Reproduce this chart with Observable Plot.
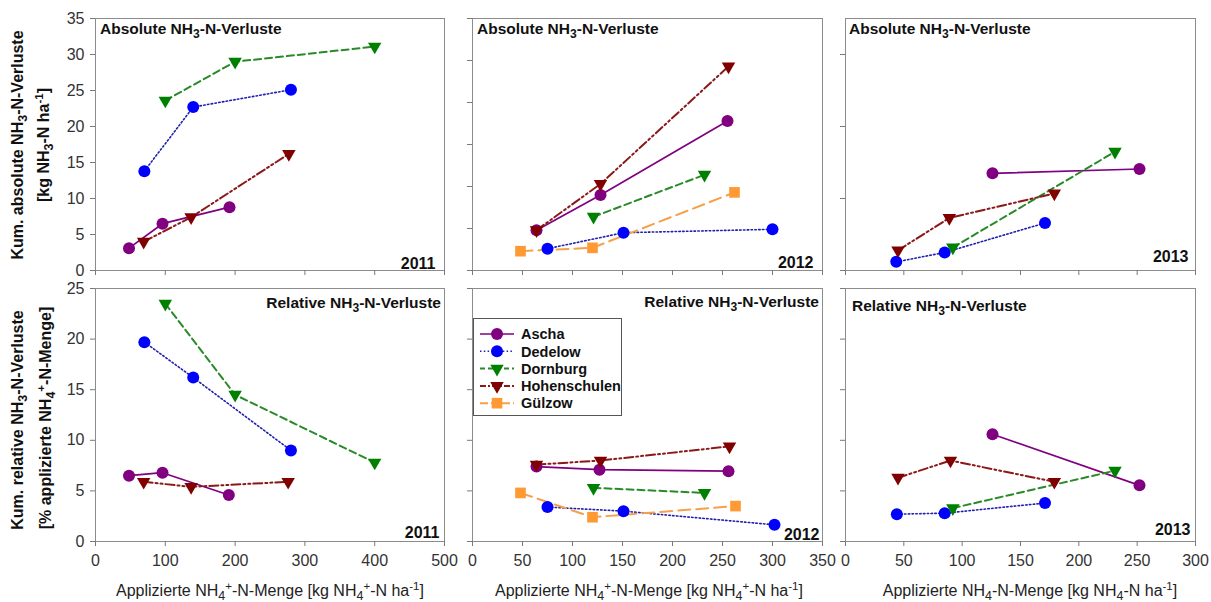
<!DOCTYPE html>
<html><head><meta charset="utf-8">
<script src="https://cdn.jsdelivr.net/npm/d3@7"></script>
<script src="https://cdn.jsdelivr.net/npm/@observablehq/plot@0.6"></script>
<style>
body{margin:0;background:#fff;font-family:"Liberation Sans",Arial,sans-serif;}
#fig{position:relative;width:1211px;height:602px;overflow:hidden;background:#fff}
#fig svg.pl{position:absolute}
.t{position:absolute;font-weight:bold;font-size:15.5px;color:#111;white-space:nowrap;line-height:1}
.xl{position:absolute;font-size:16px;color:#222;white-space:nowrap;line-height:1;transform:translateX(-50%)}
.yl{position:absolute;font-weight:bold;font-size:16px;color:#111;white-space:nowrap;line-height:1;transform:translate(-50%,-50%) rotate(-90deg)}
sub{font-size:0.78em;vertical-align:-0.3em;line-height:0}
sup{font-size:0.72em;vertical-align:0.5em;line-height:0}
</style></head>
<body><div id="fig"></div>
<script>
// ---- categories & styles ----
const sites = ["Ascha","Dedelow","Dornburg","Hohenschulen","Gülzow"];
const markerColors = ["#800080","#0000ff","#008000","#800000","#ff9933"];
const lineColors = ["#800080","#2020b0","#2a8a2a","#8a1a1a","#f5a04a"];
const lineDash = [null,"1.5,2.3","7,4","9,3,2,3,2,3","12,6"];
const lineWidths = [1.7,1.6,2,2,2];
const markerKinds = ["circle","circle","triangleDown","triangleDown","square"];
const markerR = [6,6,5,5,6];

// ---- data: [site, applied NH4-N (kg/ha), value] ----
const abs2011 = [
  ["Ascha",48,3.1],["Ascha",96,6.5],["Ascha",192,8.8],
  ["Dedelow",70,13.8],["Dedelow",140,22.7],["Dedelow",280,25.1],
  ["Dornburg",100,23.6],["Dornburg",200,29.0],["Dornburg",400,31.1],
  ["Hohenschulen",69,4.0],["Hohenschulen",137,7.4],["Hohenschulen",277,16.2]
];
const abs2012 = [
  ["Ascha",64,4.8],["Ascha",128,9.0],["Ascha",255,17.8],
  ["Dedelow",75,2.6],["Dedelow",151,4.5],["Dedelow",300,4.9],
  ["Dornburg",121,6.4],["Dornburg",232,11.4],
  ["Hohenschulen",64,4.8],["Hohenschulen",128,10.3],["Hohenschulen",256,24.3],
  ["Gülzow",48,2.3],["Gülzow",120,2.7],["Gülzow",262,9.3]
];
const abs2013 = [
  ["Ascha",126,13.5],["Ascha",252,14.1],
  ["Dedelow",43.5,1.2],["Dedelow",85,2.5],["Dedelow",171,6.6],
  ["Dornburg",92,3.2],["Dornburg",231,16.5],
  ["Hohenschulen",45,2.8],["Hohenschulen",89,7.3],["Hohenschulen",179,10.7]
];
const rel2011 = [
  ["Ascha",48,6.5],["Ascha",96,6.8],["Ascha",191,4.6],
  ["Dedelow",70,19.7],["Dedelow",140,16.2],["Dedelow",280,9.0],
  ["Dornburg",100,23.5],["Dornburg",200,14.5],["Dornburg",400,7.8],
  ["Hohenschulen",69,5.9],["Hohenschulen",137,5.4],["Hohenschulen",276,5.9]
];
const rel2012 = [
  ["Ascha",64,7.4],["Ascha",127,7.1],["Ascha",256,6.95],
  ["Dedelow",75,3.4],["Dedelow",151,3.0],["Dedelow",302,1.65],
  ["Dornburg",121,5.3],["Dornburg",232,4.8],
  ["Hohenschulen",64,7.6],["Hohenschulen",128,8.0],["Hohenschulen",257,9.4],
  ["Gülzow",48,4.8],["Gülzow",120,2.4],["Gülzow",263,3.5]
];
const rel2013 = [
  ["Ascha",126,10.6],["Ascha",252,5.55],
  ["Dedelow",44,2.7],["Dedelow",85,2.8],["Dedelow",171,3.8],
  ["Dornburg",92,3.3],["Dornburg",231,7.0],
  ["Hohenschulen",45,6.3],["Hohenschulen",90,8.0],["Hohenschulen",179,5.9]
];

// ---- tick values ----
const xTicks2011 = [0,100,200,300,400,500];
const xTicks2012 = [0,50,100,150,200,250,300,350];
const xTicks2013 = [0,50,100,150,200,250,300];
const yTicksAbs2011 = [0,5,10,15,20,25,30,35];
const yTicksAbs2012 = [0,5,10,15,20,25,30];
const yTicksAbs2013 = [0,10,20,30];
const yTicksRel = [0,5,10,15,20,25];

// custom downward triangle symbol (area = size)
const triangleDown = {
  draw(ctx, size) {
    const a = Math.sqrt(4 * size / Math.sqrt(3));
    const R = a / Math.sqrt(3);
    ctx.moveTo(0, R);
    ctx.lineTo(-a / 2, -R / 2);
    ctx.lineTo(a / 2, -R / 2);
    ctx.closePath();
  }
};
const symbolOf = k => k === "triangleDown" ? triangleDown : k;

const fig = document.getElementById("fig");
const mL = 60, mR = 20, mT = 10, mB = 40;

function panel({rows, xDomain, yDomain, xTicks, yTicks, xLabels, yLabels, year, yearDx, yearDy, left, top, w, h}) {
  const data = rows.map(([site, n, v]) => ({site, n, v}));
  const marks = [
    Plot.frame({stroke: "#8c8c8c"}),
    Plot.axisX({ticks: xTicks, tickSize: 5, tickPadding: 8, stroke: "#7a7a7a", fill: "#333",
      tickFormat: xLabels ? d => String(d) : () => "", label: null}),
    Plot.axisY({ticks: yTicks, tickSize: 5, tickPadding: 6, stroke: "#7a7a7a", fill: "#333",
      tickFormat: yLabels ? d => String(d) : () => "", label: null})
  ];
  sites.forEach((s, i) => {
    const d = data.filter(r => r.site === s);
    if (!d.length) return;
    const opts = {x: "n", y: "v", stroke: lineColors[i], strokeWidth: lineWidths[i]};
    if (lineDash[i]) opts.strokeDasharray = lineDash[i];
    marks.push(Plot.line(d, opts));
  });
  sites.forEach((s, i) => {
    const d = data.filter(r => r.site === s);
    if (!d.length) return;
    marks.push(Plot.dot(d, {x: "n", y: "v", r: markerR[i], symbol: symbolOf(markerKinds[i]),
      fill: markerColors[i], stroke: "none"}));
  });
  marks.push(Plot.text([year], {text: d => String(d), frameAnchor: "bottom-right", dx: yearDx, dy: yearDy,
    fontWeight: "bold", fontSize: 16, fill: "#111"}));
  const svg = Plot.plot({
    width: mL + w + mR, height: mT + h + mB,
    marginLeft: mL, marginRight: mR, marginTop: mT, marginBottom: mB,
    x: {domain: xDomain, axis: null},
    y: {domain: yDomain, axis: null},
    style: {background: "transparent", fontSize: "16px", fontFamily: "'Liberation Sans', Arial, sans-serif", overflow: "visible"},
    marks
  });
  svg.classList.add("pl");
  svg.style.left = (left - mL) + "px";
  svg.style.top = (top - mT) + "px";
  svg.style.maxWidth = "none";
  fig.appendChild(svg);
}

const cols = [{left: 95, w: 349}, {left: 472, w: 350}, {left: 845, w: 350}];
const rowsY = [{top: 18, h: 252}, {top: 288, h: 253}];

panel({rows: abs2011, xDomain: [0,500], yDomain: [0,35], xTicks: xTicks2011, yTicks: yTicksAbs2011,
  xLabels: false, yLabels: true, year: 2011, yearDx: -9, yearDy: -2, ...cols[0], ...rowsY[0]});
panel({rows: abs2012, xDomain: [0,350], yDomain: [0,30], xTicks: xTicks2012, yTicks: yTicksAbs2012,
  xLabels: false, yLabels: false, year: 2012, yearDx: -9, yearDy: -3, ...cols[1], ...rowsY[0]});
panel({rows: abs2013, xDomain: [0,300], yDomain: [0,35], xTicks: xTicks2013, yTicks: yTicksAbs2013,
  xLabels: false, yLabels: false, year: 2013, yearDx: -7, yearDy: -9, ...cols[2], ...rowsY[0]});
panel({rows: rel2011, xDomain: [0,500], yDomain: [0,25], xTicks: xTicks2011, yTicks: yTicksRel,
  xLabels: true, yLabels: true, year: 2011, yearDx: -5, yearDy: -4, ...cols[0], ...rowsY[1]});
panel({rows: rel2012, xDomain: [0,350], yDomain: [0,25], xTicks: xTicks2012, yTicks: yTicksRel,
  xLabels: true, yLabels: false, year: 2012, yearDx: -3, yearDy: -2, ...cols[1], ...rowsY[1]});
panel({rows: rel2013, xDomain: [0,300], yDomain: [0,25], xTicks: xTicks2013, yTicks: yTicksRel,
  xLabels: true, yLabels: false, year: 2013, yearDx: -5, yearDy: -7, ...cols[2], ...rowsY[1]});

// ---- text overlays ----
function addDiv(cls, html, styles) {
  const d = document.createElement("div");
  d.className = cls; d.innerHTML = html;
  Object.assign(d.style, styles);
  fig.appendChild(d);
  return d;
}
const absTitle = "Absolute NH<sub>3</sub>-N-Verluste";
const relTitle = "Relative NH<sub>3</sub>-N-Verluste";
addDiv("t", absTitle, {left: "100px", top: "21px"});
addDiv("t", absTitle, {left: "477px", top: "21px"});
addDiv("t", absTitle, {left: "849px", top: "21px"});
addDiv("t", relTitle, {right: (1211 - 441) + "px", top: "295px"});
addDiv("t", relTitle, {right: (1211 - 819) + "px", top: "294px"});
addDiv("t", relTitle, {left: "852px", top: "298px"});

addDiv("yl", "Kum. absolute NH<sub>3</sub>-N-Verluste", {left: "18px", top: "145px"});
addDiv("yl", "[kg NH<sub>3</sub>-N ha<sup>-1</sup>]", {left: "44px", top: "145px"});
addDiv("yl", "Kum. relative NH<sub>3</sub>-N-Verluste", {left: "18px", top: "420px"});
addDiv("yl", "[% applizierte NH<sub>4</sub><sup>+</sup>-N-Menge]", {left: "46px", top: "418px"});

const xlab1 = "Applizierte NH<sub>4</sub><sup>+</sup>-N-Menge [kg NH<sub>4</sub><sup>+</sup>-N ha<sup>-1</sup>]";
const xlab3 = "Applizierte NH<sub>4</sub>-N-Menge [kg NH<sub>4</sub>-N ha<sup>-1</sup>]";
addDiv("xl", xlab1, {left: "270px", top: "583px"});
addDiv("xl", xlab1, {left: "649px", top: "583px"});
addDiv("xl", xlab3, {left: "1030px", top: "583px"});

// ---- legend ----
const lg = d3.select(fig).append("svg")
  .attr("width", 150).attr("height", 99)
  .style("position", "absolute").style("left", "473px").style("top", "318px");
lg.append("rect").attr("x", 0.5).attr("y", 0.5).attr("width", 148).attr("height", 97)
  .attr("fill", "white").attr("stroke", "#555");
sites.forEach((s, i) => {
  const cy = 16 + i * 17.3;
  const g = lg.append("g");
  g.append("line").attr("x1", 7).attr("x2", 41).attr("y1", cy).attr("y2", cy)
    .attr("stroke", lineColors[i]).attr("stroke-width", lineWidths[i])
    .attr("stroke-dasharray", lineDash[i] ? (i === 4 ? "8,3" : i === 2 ? "5,3" : i === 3 ? "6,2,2,2" : lineDash[i]) : null);
  const sym = markerKinds[i] === "triangleDown" ? triangleDown : markerKinds[i] === "square" ? d3.symbolSquare : d3.symbolCircle;
  g.append("path").attr("transform", `translate(24,${cy})`)
    .attr("d", d3.symbol(sym, Math.PI * markerR[i] * markerR[i])())
    .attr("fill", markerColors[i]);
  g.append("text").attr("x", 48).attr("y", cy).attr("dy", "0.36em")
    .attr("font-size", 14.5).attr("font-weight", "bold").attr("fill", "#111")
    .attr("font-family", "'Liberation Sans', Arial, sans-serif").text(s);
});
</script>
</body></html>
